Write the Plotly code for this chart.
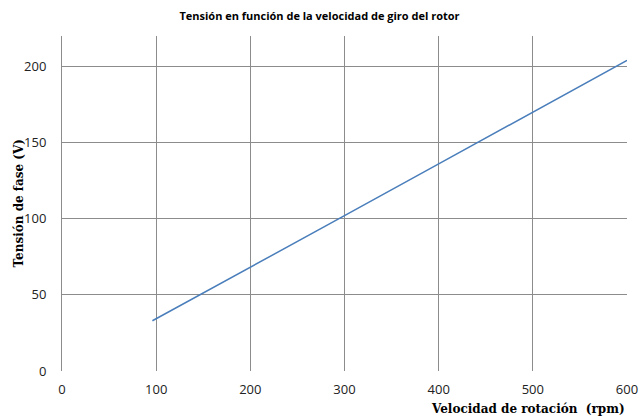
import plotly.graph_objects as go

rpm = [96, 200, 300, 400, 500, 600]
tension = [33, 68, 102, 136, 170, 204]

title_text = "Tensión en función de la velocidad de giro del rotor"
x_title = "Velocidad de rotación  (rpm)"
y_title = "Tensión de fase (V)"

fig = go.Figure()
fig.add_trace(go.Scatter(x=rpm, y=tension, mode="lines",
                         line=dict(color="#4a7ebb", width=1.5), showlegend=False,
                         hoverinfo="skip"))

fig.update_layout(
    width=639, height=419,
    margin=dict(l=62, r=12, t=36, b=48),
    paper_bgcolor="white", plot_bgcolor="white",
    title=dict(text="<b>" + title_text + "</b>", x=0.5, xanchor="center",
               y=0.962, yanchor="middle",
               font=dict(family="Open Sans, sans-serif", size=11, color="black")),
    xaxis=dict(range=[0, 600], tickvals=[0, 100, 200, 300, 400, 500, 600],
               showgrid=True, gridcolor="#8c8c8c", gridwidth=1,
               zeroline=False, showline=False, ticks="", automargin=False,
               tickfont=dict(family="Open Sans, sans-serif", size=13, color="#222"),
               ticklabelstandoff=9),
    yaxis=dict(range=[0, 220], tickvals=[0, 50, 100, 150, 200],
               showgrid=True, gridcolor="#8c8c8c", gridwidth=1,
               zeroline=False, showline=True, linecolor="#8c8c8c", linewidth=1,
               ticks="", ticklabelstandoff=12, automargin=False,
               tickfont=dict(family="Open Sans, sans-serif", size=13, color="#222")),
)
fig.add_annotation(text="<b>" + x_title + "</b>", xref="paper", yref="paper",
                   x=1.0, y=0, xanchor="right", yanchor="top", yshift=-29,
                   showarrow=False,
                   font=dict(family="DejaVu Serif, serif", size=12, color="black"))
fig.add_annotation(text="<b>" + y_title + "</b>", xref="paper", yref="paper",
                   x=0, y=0.5, xanchor="center", yanchor="middle", xshift=-44,
                   textangle=-90, showarrow=False,
                   font=dict(family="DejaVu Serif, serif", size=12, color="black"))

fig.write_html("out.html", config={"displayModeBar": False},
               post_script="document.body.style.margin='0';document.body.style.overflow='hidden';")
